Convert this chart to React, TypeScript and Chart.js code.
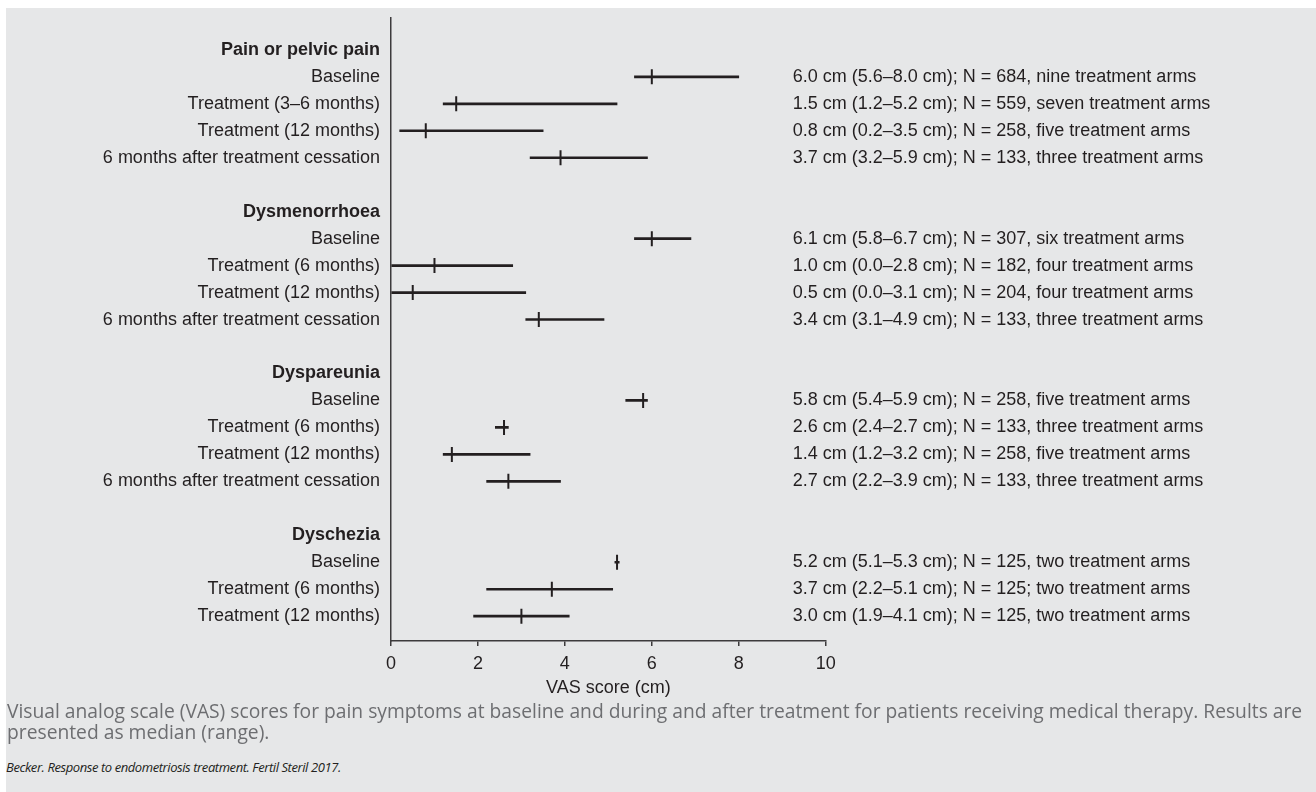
import React, { useEffect, useRef } from "react";
import { Chart, registerables } from "chart.js";

Chart.register(...registerables);

const ROW_LABELS = [
  "Pain or pelvic pain",
  "Baseline",
  "Treatment (3–6 months)",
  "Treatment (12 months)",
  "6 months after treatment cessation",
  "",
  "Dysmenorrhoea",
  "Baseline",
  "Treatment (6 months)",
  "Treatment (12 months)",
  "6 months after treatment cessation",
  "",
  "Dyspareunia",
  "Baseline",
  "Treatment (6 months)",
  "Treatment (12 months)",
  "6 months after treatment cessation",
  "",
  "Dyschezia",
  "Baseline",
  "Treatment (6 months)",
  "Treatment (12 months)",
];

const HEADER_ROWS = [0, 6, 12, 18];
const DATA_ROWS = [1, 2, 3, 4, 7, 8, 9, 10, 13, 14, 15, 16, 19, 20, 21];

const MEDIANS = [6.0, 1.5, 0.8, 3.9, 6.0, 1.0, 0.5, 3.4, 5.8, 2.6, 1.4, 2.7, 5.2, 3.7, 3.0];
const LOWS = [5.6, 1.2, 0.2, 3.2, 5.6, 0.0, 0.0, 3.1, 5.4, 2.4, 1.2, 2.2, 5.15, 2.2, 1.9];
const HIGHS = [8.0, 5.2, 3.5, 5.9, 6.9, 2.8, 3.1, 4.9, 5.9, 2.7, 3.2, 3.9, 5.25, 5.1, 4.1];

const ANNOTATIONS = [
  "6.0 cm (5.6–8.0 cm); N = 684, nine treatment arms",
  "1.5 cm (1.2–5.2 cm); N = 559, seven treatment arms",
  "0.8 cm (0.2–3.5 cm); N = 258, five treatment arms",
  "3.7 cm (3.2–5.9 cm); N = 133, three treatment arms",
  "6.1 cm (5.8–6.7 cm); N = 307, six treatment arms",
  "1.0 cm (0.0–2.8 cm); N = 182, four treatment arms",
  "0.5 cm (0.0–3.1 cm); N = 204, four treatment arms",
  "3.4 cm (3.1–4.9 cm); N = 133, three treatment arms",
  "5.8 cm (5.4–5.9 cm); N = 258, five treatment arms",
  "2.6 cm (2.4–2.7 cm); N = 133, three treatment arms",
  "1.4 cm (1.2–3.2 cm); N = 258, five treatment arms",
  "2.7 cm (2.2–3.9 cm); N = 133, three treatment arms",
  "5.2 cm (5.1–5.3 cm); N = 125, two treatment arms",
  "3.7 cm (2.2–5.1 cm); N = 125; two treatment arms",
  "3.0 cm (1.9–4.1 cm); N = 125, two treatment arms",
];

const X_TITLE = "VAS score (cm)";
const CAPTION_LINE_1 =
  "Visual analog scale (VAS) scores for pain symptoms at baseline and during and after treatment for patients receiving medical therapy. Results are";
const CAPTION_LINE_2 = "presented as median (range).";
const CITATION = "Becker. Response to endometriosis treatment. Fertil Steril 2017.";

const FONT = "'Liberation Sans', Arial, Helvetica, sans-serif";
const INK = "#231f20";
const AXIS = "#3d3b3c";

const annotationPlugin = {
  id: "annotations",
  afterDatasetsDraw(chart: any) {
    const { ctx, chartArea } = chart;
    const yScale = chart.scales.y;
    ctx.save();
    ctx.font = `18px ${FONT}`;
    ctx.fillStyle = INK;
    ctx.textAlign = "left";
    ctx.textBaseline = "middle";
    DATA_ROWS.forEach((row, i) => {
      ctx.fillText(ANNOTATIONS[i], chartArea.right - 33, yScale.getPixelForValue(row));
    });
    ctx.restore();
  },
};

export default function App() {
  const canvasRef = useRef<HTMLCanvasElement | null>(null);

  useEffect(() => {
    document.body.style.overflow = "hidden";
    const canvas = canvasRef.current;
    if (!canvas) return;
    const chart = new Chart(canvas, {
      type: "bar",
      data: {
        datasets: [
          {
            type: "bar",
            indexAxis: "y",
            data: DATA_ROWS.map((row, i) => ({ x: [LOWS[i], HIGHS[i]], y: row })) as any,
            backgroundColor: INK,
            borderWidth: 0,
            barThickness: 2,
            xAxisID: "x",
            yAxisID: "y",
          } as any,
          {
            type: "scatter",
            data: DATA_ROWS.map((row, i) => ({ x: MEDIANS[i], y: row })),
            pointStyle: "line",
            rotation: 90,
            radius: 7.5,
            borderWidth: 2,
            borderColor: INK,
            backgroundColor: INK,
            xAxisID: "x",
            yAxisID: "y",
          } as any,
        ],
      },
      options: {
        responsive: false,
        animation: false,
        events: [],
        layout: { padding: { top: 9.3, right: 490.3, left: 0, bottom: 0 } },
        plugins: {
          legend: { display: false },
          tooltip: { enabled: false },
        },
        scales: {
          x: {
            type: "linear",
            position: "bottom",
            offset: false,
            min: 0,
            max: 10,
            afterFit: (scale: any) => {
              scale.height = 62;
            },
            ticks: {
              stepSize: 2,
              color: INK,
              font: { family: FONT, size: 18 },
              padding: 7,
            },
            grid: {
              display: true,
              offset: false,
              drawOnChartArea: false,
              drawTicks: true,
              tickLength: 5,
              color: AXIS,
              lineWidth: 1.5,
            },
            border: { display: true, color: AXIS, width: 1.5 },
            title: {
              display: true,
              text: X_TITLE,
              color: INK,
              font: { family: FONT, size: 18 },
              padding: { top: 4, bottom: 4 },
            },
          },
          y: {
            type: "linear",
            position: "left",
            offset: false,
            min: -1.2,
            max: 21.92,
            reverse: true,
            afterFit: (scale: any) => {
              scale.width = 385;
              scale.paddingTop = 0;
              scale.paddingBottom = 0;
            },
            afterBuildTicks: (scale: any) => {
              scale.ticks = ROW_LABELS.map((_, i) => ({ value: i }));
            },
            ticks: {
              autoSkip: false,
              color: INK,
              padding: 11,
              callback: (value: any) => ROW_LABELS[value as number] ?? "",
              font: (ctx: any) => ({
                family: FONT,
                size: 18,
                weight: HEADER_ROWS.includes(ctx.index) ? "bold" : "normal",
              }),
            } as any,
            grid: { display: false, drawTicks: false, offset: false },
            border: { display: true, color: AXIS, width: 1.5 },
          },
        },
      },
      plugins: [annotationPlugin],
    });
    return () => chart.destroy();
  }, []);

  return (
    <div
      style={{
        position: "absolute",
        left: 6,
        top: 8,
        width: 1310,
        height: 784,
        background: "#e6e7e8",
        overflow: "hidden",
      }}
    >
      <canvas ref={canvasRef} width={1310} height={695} style={{ display: "block" }} />
      <div
        style={{
          position: "absolute",
          left: 1,
          top: 692,
          fontFamily: "'Open Sans', 'Noto Sans', sans-serif",
          fontSize: 19.25,
          lineHeight: "21px",
          color: "#6d6e71",
          whiteSpace: "nowrap",
        }}
      >
        <div>{CAPTION_LINE_1}</div>
        <div>{CAPTION_LINE_2}</div>
      </div>
      <div
        style={{
          position: "absolute",
          left: 0,
          top: 751,
          fontFamily: "'Open Sans', 'Noto Sans', sans-serif",
          fontStyle: "italic",
          fontSize: 13,
          lineHeight: "16px",
          letterSpacing: -0.42,
          color: INK,
          whiteSpace: "nowrap",
        }}
      >
        {CITATION}
      </div>
    </div>
  );
}
